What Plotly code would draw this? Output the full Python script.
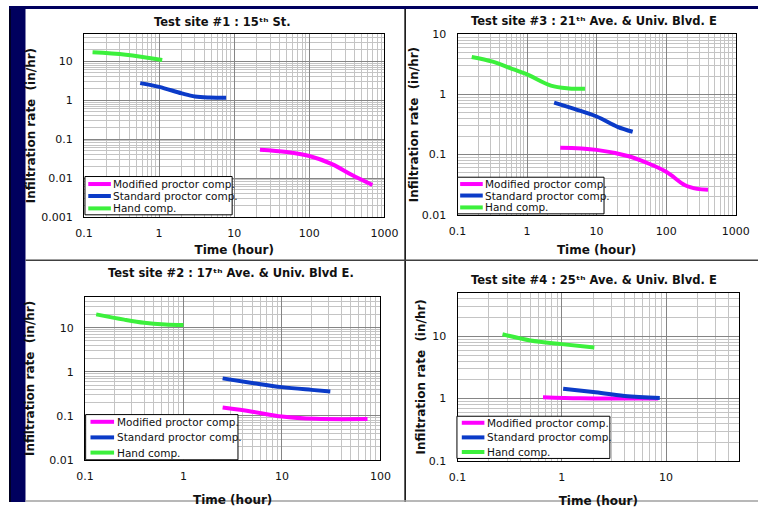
import math
import plotly.graph_objects as go

W, H = 772, 509

# ---------------- data ----------------
SERIES = ["Modified proctor comp.", "Standard proctor comp.", "Hand comp."]
COLORS = ["#FF00FF", "#0B3BC8", "#3CF03C"]

TITLES = [
    "Test site #1 : 15\u1d57\u02b0 St.",
    "Test site #3 : 21\u1d57\u02b0 Ave. & Univ. Blvd. E",
    "Test site #2 : 17\u1d57\u02b0 Ave. & Univ. Blvd E.",
    "Test site #4 : 25\u1d57\u02b0 Ave. & Univ. Blvd. E",
]
X_TITLE = "Time (hour)"
Y_TITLE = "Infiltration rate\u00a0 (in/hr)"

TICK_VALS = [0.001, 0.01, 0.1, 1, 10, 100, 1000]
TICK_TEXT = ["0.001", "0.01", "0.1", "1", "10", "100", "1000"]

# Site 1
S1_MOD_T = [22, 50, 100, 200, 370, 690]
S1_MOD_R = [0.054, 0.047, 0.037, 0.023, 0.012, 0.0067]
S1_STD_T = [0.56, 1.0, 2.0, 3.0, 4.7, 7.8]
S1_STD_R = [2.75, 2.2, 1.5, 1.25, 1.17, 1.15]
S1_HAND_T = [0.13, 0.36, 1.1]
S1_HAND_R = [17, 14.7, 10.8]

# Site 3
S3_MOD_T = [3.0, 10, 28, 50, 100, 187, 280, 400]
S3_MOD_R = [0.13, 0.12, 0.095, 0.075, 0.052, 0.031, 0.027, 0.026]
S3_STD_T = [2.45, 4.9, 10, 20, 33]
S3_STD_R = [0.73, 0.57, 0.43, 0.29, 0.24]
S3_HAND_T = [0.16, 0.32, 0.57, 1.0, 2.2, 4.0, 6.8]
S3_HAND_R = [4.2, 3.5, 2.75, 2.15, 1.4, 1.26, 1.24]

# Site 2
S2_MOD_T = [2.5, 5, 10, 22, 74]
S2_MOD_R = [0.155, 0.125, 0.097, 0.086, 0.085]
S2_STD_T = [2.5, 5, 10, 20, 31]
S2_STD_R = [0.71, 0.56, 0.45, 0.39, 0.36]
S2_HAND_T = [0.13, 0.25, 0.4, 0.65, 1.0]
S2_HAND_R = [20, 15.2, 12.9, 11.8, 11.5]

# Site 4
S4_MOD_T = [0.66, 1.5, 4, 8.4]
S4_MOD_R = [1.05, 1.01, 1.0, 1.0]
S4_STD_T = [1.03, 2.0, 4.0, 8.7]
S4_STD_R = [1.44, 1.27, 1.1, 1.02]
S4_HAND_T = [0.27, 0.5, 1.0, 2.05]
S4_HAND_R = [10.8, 8.6, 7.5, 6.6]

PANEL_DATA = [
    [(S1_MOD_T, S1_MOD_R), (S1_STD_T, S1_STD_R), (S1_HAND_T, S1_HAND_R)],
    [(S3_MOD_T, S3_MOD_R), (S3_STD_T, S3_STD_R), (S3_HAND_T, S3_HAND_R)],
    [(S2_MOD_T, S2_MOD_R), (S2_STD_T, S2_STD_R), (S2_HAND_T, S2_HAND_R)],
    [(S4_MOD_T, S4_MOD_R), (S4_STD_T, S4_STD_R), (S4_HAND_T, S4_HAND_R)],
]

# ---------------- layout (pixels) ----------------
PANELS = [
    dict(box=(77.3, 387.0, 28.7, 216.7), xr=(-1, 3), yr=(-3, 1.7),
         title=(220, 16), ystand=3, xstand=6,
         leg=(78.3, 230, 175, 214.3), rows=(182.7, 195.0, 207.7), lx=(81.7, 105)),
    dict(box=(462.3, 749.0, 29.0, 214.3), xr=(-1, 3), yr=(-2, 1),
         title=(602.7, 15), ystand=0, xstand=8,
         leg=(462.3, 613.3, 175.7, 213.3), rows=(182.7, 194.5, 206.7), lx=(465, 488.3)),
    dict(box=(78.3, 382.8, 298.4, 466.0), xr=(-1, 2), yr=(-2, 1.7),
         title=(229, 274), ystand=12, xstand=13,
         leg=(79, 236, 419.3, 465.7), rows=(426.7, 442.7, 458.3), lx=(84, 108.3)),
    dict(box=(462.3, 752.5, 294.3, 466.7), xr=(-1, 1.7), yr=(-1, 1.7),
         title=(603, 280.7), ystand=0, xstand=13,
         leg=(461.7, 619.3, 421, 464.3), rows=(427.7, 442.7, 457.7), lx=(466.7, 490)),
]

FONT = "DejaVu Sans"
NAVY = "#00005E"


def px(x):
    return x / W


def py(y):
    return 1 - y / H


def minor_vals(lo, hi):
    vals = []
    for d in range(int(lo) - 1, int(hi) + 2):
        for k in range(2, 10):
            v = k * 10 ** d
            if lo <= math.log10(v) <= hi:
                vals.append(v)
    return vals


fig = go.Figure()
shapes = []
annotations = []
TITLE_FONT = dict(family=FONT, size=12, color="#111111", weight="bold")

for i, (p, pdata) in enumerate(zip(PANELS, PANEL_DATA)):
    n = "" if i == 0 else str(i + 1)
    xa, ya = "x" + n, "y" + n
    for (t, r), name, col in zip(pdata, SERIES, COLORS):
        fig.add_trace(go.Scatter(
            x=t, y=r, mode="lines", name=name, showlegend=False,
            line=dict(color=col, width=4, shape="spline", smoothing=1.0),
            xaxis=xa, yaxis=ya, hoverinfo="x+y+name"))
    x0, x1, y0, y1 = p["box"]
    common = dict(
        type="log", showline=True, mirror=True, linecolor="black", linewidth=1,
        showgrid=True, gridcolor="#858585", gridwidth=1, zeroline=False,
        tickvals=TICK_VALS, ticktext=TICK_TEXT, ticks="",
        tickfont=dict(family=FONT, size=11, color="#111111"),
    )
    fig.layout["xaxis" + n] = dict(
        common, domain=[px(x0), px(x1)], range=list(p["xr"]), anchor=ya,
        ticklabelstandoff=6,
        title=dict(text=X_TITLE, font=TITLE_FONT, standoff=p["xstand"]),
        minor=dict(tickvals=minor_vals(*p["xr"]), showgrid=True,
                   gridcolor="#C4C4C4", gridwidth=1, ticks=""))
    fig.layout["yaxis" + n] = dict(
        common, domain=[py(y1), py(y0)], range=list(p["yr"]), anchor=xa,
        ticklabelstandoff=8,
        title=dict(text=Y_TITLE, font=TITLE_FONT, standoff=p["ystand"]),
        minor=dict(tickvals=minor_vals(*p["yr"]), showgrid=True,
                   gridcolor="#C4C4C4", gridwidth=1, ticks=""))

    annotations.append(dict(text=TITLES[i], x=px(p["title"][0]), y=py(p["title"][1]),
                            xref="paper", yref="paper", showarrow=False, xanchor="center",
                            yanchor="middle",
                            font=dict(family=FONT, size=11.5, color="#111111", weight="bold")))

    lx0, lx1, ly0, ly1 = p["leg"]
    shapes.append(dict(type="rect", xref="paper", yref="paper",
                       x0=px(lx0), x1=px(lx1), y0=py(ly1), y1=py(ly0),
                       fillcolor="white", line=dict(color="black", width=1), layer="above"))
    for row, name, col in zip(p["rows"], SERIES, COLORS):
        shapes.append(dict(type="line", xref="paper", yref="paper",
                           x0=px(p["lx"][0]), x1=px(p["lx"][1]), y0=py(row), y1=py(row),
                           line=dict(color=col, width=4), layer="above"))
        annotations.append(dict(text=name, x=px(p["lx"][1] + 0.5), y=py(row),
                                xref="paper", yref="paper", showarrow=False,
                                xanchor="left", yanchor="middle",
                                font=dict(family=FONT, size=10.5, color="#111111")))

shapes += [
    dict(type="rect", xref="paper", yref="paper", x0=0, x1=px(17), y0=0, y1=1,
         fillcolor=NAVY, line=dict(width=0), layer="below"),
    dict(type="rect", xref="paper", yref="paper", x0=0, x1=px(2), y0=0, y1=1,
         fillcolor="#000020", line=dict(width=0), layer="below"),
    dict(type="rect", xref="paper", yref="paper", x0=0, x1=1, y0=py(3), y1=1,
         fillcolor=NAVY, line=dict(width=0), layer="below"),
    dict(type="line", xref="paper", yref="paper", x0=px(408.3), x1=px(408.3), y0=0, y1=py(3),
         line=dict(color="black", width=1.5)),
    dict(type="line", xref="paper", yref="paper", x0=px(17), x1=1, y0=py(261), y1=py(261),
         line=dict(color="#404040", width=1.5)),
    dict(type="line", xref="paper", yref="paper", x0=px(17), x1=1, y0=py(508), y1=py(508),
         line=dict(color="#A0A0A0", width=1.5)),
]

fig.update_layout(
    width=W, height=H, margin=dict(l=0, r=0, t=0, b=0),
    paper_bgcolor="white", plot_bgcolor="white",
    showlegend=False, shapes=shapes, annotations=annotations,
    font=dict(family=FONT, size=11, color="#111111"),
)

fig.write_html("out.html")
